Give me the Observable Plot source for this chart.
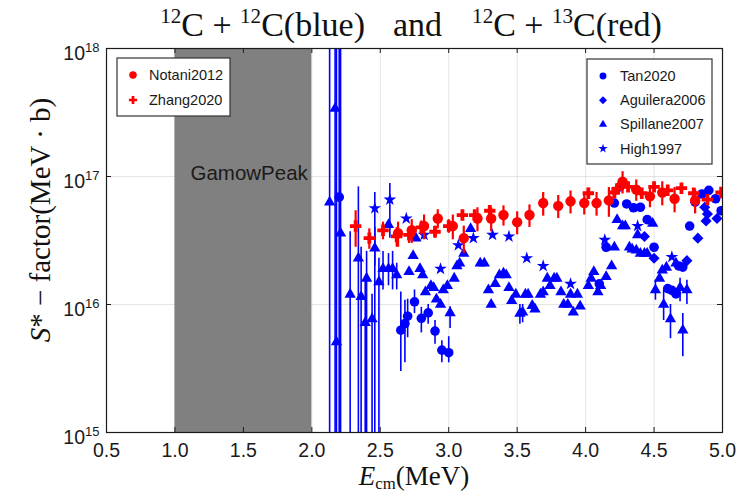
<!DOCTYPE html>
<html>
<head>
<meta charset="utf-8">
<script src="https://cdn.jsdelivr.net/npm/d3@7"></script>
<script src="https://cdn.jsdelivr.net/npm/@observablehq/plot@0.6"></script>
<style>
  body { margin: 0; background: white; }
  #wrap { position: relative; width: 755px; height: 496px; background: white; overflow: hidden; }
  .serif { font-family: "Liberation Serif", "DejaVu Serif", serif; color: #111; position: absolute; white-space: nowrap; line-height: 36px; }
  .serif sup { font-size: 62%; vertical-align: 0.62em; line-height: 0; }
  .serif sub { font-size: 62%; vertical-align: -0.25em; line-height: 0; }
</style>
</head>
<body>
<div id="wrap">
  <div id="chart"></div>
  <div id="title" class="serif" style="left:0;width:822px;text-align:center;top:7px;font-size:34px;">
    <sup>12</sup>C + <sup>12</sup>C(blue)<span style="display:inline-block;width:28px"></span>and<span style="display:inline-block;width:30px"></span><sup>12</sup>C + <sup>13</sup>C(red)
  </div>
  <div id="xlabel" class="serif" style="left:414px;top:458px;font-size:27px;transform:translateX(-50%);">
    <i>E</i><sub>cm</sub>(MeV)
  </div>
  <div id="ylabel" class="serif" style="left:40px;top:220px;font-size:29px;transform:translate(-50%,-50%) rotate(-90deg);">
    <i>S</i>* − factor(MeV · b)
  </div>
</div>
<script>
// ---------- axis ticks ----------
const xTicks = [0.5, 1.0, 1.5, 2.0, 2.5, 3.0, 3.5, 4.0, 4.5, 5.0];
const yTicks = [1e15, 1e16, 1e17, 1e18];
const gamowWindow = [1.0, 2.0];
const gamowLabel = "GamowPeak";

// ---------- 12C+13C (red) : [E, S, dS] ----------
const notani2012 = [
  [2.63,3.6e16,0.8e16],[2.73,3.8e16,0.8e16],[2.82,4.1e16,0.9e16],[2.92,4.7e16,0.8e16],
  [3.03,4.1e16,0.9e16],[3.11,3.3e16,0.8e16],[3.21,4.7e16,1.0e16],[3.31,4.7e16,1.0e16],
  [3.40,5.0e16,0.9e16],[3.50,4.4e16,0.9e16],[3.59,5.0e16,1.0e16],[3.69,6.2e16,1.3e16],
  [3.80,5.9e16,1.2e16],[3.89,6.4e16,1.3e16],[3.99,6.2e16,1.2e16],[4.08,6.2e16,1.3e16],
  [4.17,6.5e16,1.7e16],[4.27,9.1e16,1.8e16],[4.37,7.9e16,1.5e16],[4.47,7.0e16,1.3e16],
  [4.56,7.5e16,1.6e16],[4.65,6.7e16,1.5e16],[4.80,6.5e16,1.4e16]
];
const zhang2020 = [
  [2.32,4.1e16,1.3e16],[2.42,3.3e16,0.6e16],[2.52,3.8e16,0.6e16],[2.62,3.4e16,0.6e16],
  [2.71,3.5e16,0.5e16],[2.80,4.0e16,0.5e16],[2.90,3.7e16,0.4e16],[3.00,4.1e16,0.5e16],
  [3.10,5.0e16,0.4e16],[3.19,5.0e16,0.4e16],[3.30,5.4e16,0.5e16],[4.02,7.4e16,0.7e16],
  [4.21,7.5e16,0.7e16],[4.23,8.0e16,0.7e16],[4.31,8.3e16,0.7e16],[4.41,7.4e16,0.6e16],
  [4.50,8.3e16,0.7e16],[4.60,7.8e16,0.6e16],[4.70,8.1e16,0.6e16],[4.79,7.4e16,0.6e16],
  [4.89,6.6e16,0.6e16],[4.99,7.5e16,0.6e16]
];

// ---------- 12C+12C (blue) : [E, S, low, high] (bars only where visible) ----------
const tan2020 = [
  [2.20,6.9e16,1e15,1e18],[2.65,6.3e15,3.0e15,1.25e16],[2.68,7.1e15,3.5e15,1.08e16],
  [2.70,8.1e15,5.5e15,1.1e16],[2.75,1.05e16,8.5e15,1.3e16],[2.80,7.8e15,6.0e15,9.5e15],
  [2.85,8.6e15,7.0e15,1.0e16],[2.90,6.2e15,4.9e15,7.5e15],[2.95,4.4e15,3.5e15,5.2e15],
  [3.00,4.2e15,3.5e15,5.6e15],
  [4.10,1.45e16],[4.15,2.8e16],[4.21,6.2e16],[4.25,8.3e16],[4.30,6.1e16],[4.35,5.7e16],
  [4.40,5.75e16],[4.45,4.6e16],[4.50,2.8e16],[4.60,1.33e16],[4.63,1.29e16],[4.66,1.21e16],
  [4.68,2.0e16],[4.71,1.96e16],[4.76,4.1e16],[4.80,6.3e16],[4.85,7.3e16],[4.90,7.8e16],
  [4.95,6.7e16],[4.99,5.4e16]
];
const aguilera2006 = [
  [4.43,3.4e16],[4.50,2.3e16],[4.74,2.2e16],[4.82,3.3e16],[4.87,5.75e16],
  [4.89,5.1e16],[4.88,4.5e16],[4.96,4.7e16]
];
const spillane2007 = [
  [2.13,6.3e16,1e15,1e18],[2.17,3.4e17,1e15,1e18],[2.18,5.1e15,1e15,1e18],[2.21,3.6e16,1e15,1e18],
  [2.28,1.2e16,1e15,3.7e16],[2.34,2.3e16,1e15,8.3e16],[2.36,1.15e16,1e15,2.8e16],
  [2.39,7.2e15,1e15,1.6e16],[2.40,1.6e16,1e15,2.6e16],[2.44,7.7e15,1e15,1.2e16],
  [2.46,2.75e16,1e15,4.0e16],[2.49,1.5e16,1e15,2.3e16],[2.52,1.9e16,1.3e16,2.6e16],
  [2.56,1.9e16,1.4e16,2.5e16],[2.56,4.2e16],[2.59,1.9e16,1.3e16,2.6e16],[2.62,1.7e16,1.3e16,2.1e16],
  [2.71,1.8e16],[2.74,2.4e16],[2.76,3.3e16],[2.79,1.9e16],[2.81,1.7e16],[2.83,1.25e16],
  [2.87,1.4e16],[2.89,1.35e16],[2.91,1.1e16],[2.94,1.0e16],[2.96,1.3e16],[2.99,1.4e16],
  [3.01,8.6e15,6.5e15,9.6e15],[3.04,1.6e16],[3.06,2.0e16],[3.08,2.1e16],[3.11,2.5e16],
  [3.16,3.9e16],[3.23,2.1e16],[3.26,2.1e16],[3.29,1.3e16],[3.31,1.0e16],[3.34,1.45e16],
  [3.37,1.7e16],[3.40,1.75e16],[3.42,1.7e16],[3.44,1.35e16],[3.46,1.07e16],[3.49,1.2e16],
  [3.52,8.5e15,7.0e15,1.0e16],[3.54,8.7e15,7.2e15,1.0e16],[3.56,1.2e16],[3.58,1.2e16],
  [3.61,9.8e15],[3.63,9.2e15],[3.67,1.2e16],[3.69,1.25e16],[3.72,1.6e16],[3.74,1.4e16],
  [3.77,1.6e16],[3.79,1.6e16],[3.82,1.25e16],[3.84,1.0e16],[3.87,1.0e16],[3.89,1.2e16],
  [3.91,8.7e15],[3.94,1.2e16],[3.96,9.7e15],[4.02,1.4e16],[4.04,1.6e16],[4.06,1.8e16],
  [4.09,1.25e16],[4.11,1.4e16],[4.15,1.65e16],[4.19,2.0e16],[4.21,2.8e16],[4.23,4.6e16],
  [4.27,4.1e16],[4.29,4.1e16],[4.32,2.8e16],[4.34,2.7e16],[4.37,2.65e16],[4.38,3.5e16],
  [4.40,2.5e16],[4.43,2.5e16],[4.45,2.5e16],[4.49,4.3e16],[4.51,1.3e16,1.08e16,1.55e16],
  [4.54,1.6e16],[4.56,1.85e16],[4.57,1.0e16,7.5e15,1.3e16],[4.59,1.95e16],
  [4.62,7.7e15,5.4e15,1.0e16],[4.66,2.1e16],[4.69,1.35e16,1.05e16,1.6e16],
  [4.71,6.3e15,3.9e15,8.5e15],[4.74,1.3e16,1.0e16,1.55e16]
];
const high1997 = [
  [2.46,5.65e16,2.0e16,7.5e16],[2.57,6.6e16,3.3e16,8.8e16],[2.69,4.7e16],[2.82,3.5e16],
  [2.94,1.9e16],[3.07,2.9e16],[3.18,3.3e16],[3.32,3.5e16],[3.44,3.4e16],[3.57,2.3e16],
  [3.69,2.0e16],[3.89,1.45e16],[4.14,3.2e16],[4.38,4.1e16],[4.63,2.35e16]
];

// ---------- styling ----------
const BLUE = "#0000ff", RED = "#ff0000", INK = "#1a1a1a";
const blueSeries = [
  {name: "Tan2020", rows: tan2020, symbol: "circle", r: 4.8},
  {name: "Aguilera2006", rows: aguilera2006, symbol: "diamond2", r: 5.0},
  {name: "Spillane2007", rows: spillane2007, symbol: "triangle", r: 4.2},
  {name: "High1997", rows: high1997, symbol: "star", r: 4.0}
];
const redSeries = [
  {name: "Notani2012", rows: notani2012, symbol: "circle", r: 5.2},
  {name: "Zhang2020", rows: zhang2020, symbol: "cross", r: 4.8}
];

const toBlue = rows => rows.map(([E, S, lo, hi]) => ({E, S, lo, hi}));
const toRed = rows => rows.map(([E, S, d]) => ({E, S, lo: S - d, hi: S + d}));

const marks = [
  Plot.gridX(xTicks, {stroke: "#000", strokeOpacity: 0.1}),
  Plot.gridY(yTicks, {stroke: "#000", strokeOpacity: 0.1}),
  Plot.rect([{x1: gamowWindow[0], x2: gamowWindow[1], label: gamowLabel}], {x1: "x1", x2: "x2", fill: "#808080"}),
  Plot.text([{x: gamowWindow[1], label: gamowLabel}], {x: "x", text: "label", frameAnchor: "top", textAnchor: "end", dx: -4, dy: 117, fontSize: 20.5, fill: INK})
];
for (const s of blueSeries) {
  const d = toBlue(s.rows);
  marks.push(Plot.ruleX(d.filter(p => p.lo != null), {x: "E", y1: "lo", y2: "hi", stroke: BLUE, strokeWidth: 1.6, clip: true}));
}
for (const s of blueSeries) {
  marks.push(Plot.dot(toBlue(s.rows), {x: "E", y: "S", symbol: s.symbol, r: s.r, fill: BLUE, stroke: "none", clip: true}));
}
for (const s of redSeries) {
  const d = toRed(s.rows);
  marks.push(Plot.ruleX(d, {x: "E", y1: "lo", y2: "hi", stroke: RED, strokeWidth: 2.2, clip: true}));
  marks.push(Plot.dot(d, {x: "E", y: "S", symbol: s.symbol, r: s.r, fill: RED, stroke: "none", clip: true}));
}
marks.push(
  Plot.ruleX(xTicks, {insetTop: 379, stroke: INK}),
  Plot.ruleX(xTicks, {insetBottom: 379, stroke: INK}),
  Plot.ruleY(yTicks, {insetRight: 611, stroke: INK}),
  Plot.ruleY(yTicks, {insetLeft: 611, stroke: INK}),
  Plot.axisX(xTicks, {tickSize: 0, tickPadding: 11, tickFormat: d => d.toFixed(1), label: null, fontSize: 19.5, fill: INK}),
  Plot.axisY(yTicks, {tickSize: 0, tickPadding: 7, tickFormat: d => "10^" + Math.round(Math.log10(d)), label: null, fontSize: 19.5, fill: INK}),
  Plot.frame({stroke: INK, strokeWidth: 1.2})
);

const chart = Plot.plot({
  width: 755, height: 496,
  marginLeft: 106, marginRight: 33, marginTop: 48, marginBottom: 64,
  x: {domain: [0.5, 5.0], label: null},
  y: {type: "log", domain: [1e15, 1e18], label: null},
  style: {fontFamily: "'Liberation Sans', Arial, sans-serif", fontSize: "17px", color: INK, background: "white"},
  marks
});
document.getElementById("chart").appendChild(chart);

// superscript exponents on y tick labels
d3.select(chart).selectAll('g[aria-label="y-axis tick label"] text').each(function() {
  const t = d3.select(this);
  const m = /^10\^(\d+)$/.exec(t.text());
  if (!m) return;
  t.text("10").attr("dy", "0.28em");
  t.append("tspan").attr("dy", "-0.6em").attr("font-size", 13).text(m[1]);
});

// legends drawn into the svg
const svg = d3.select(chart);
function legend(box, entries, color) {
  const g = svg.append("g").attr("font-family", "'Liberation Sans', Arial, sans-serif").attr("font-size", 14.5).attr("text-anchor", "start");
  g.append("rect").attr("x", box.x).attr("y", box.y).attr("width", box.w).attr("height", box.h)
    .attr("fill", "white").attr("stroke", "#333").attr("stroke-width", 1.2);
  entries.forEach((s, i) => {
    const cy = box.y0 + i * box.dy;
    const type = {circle: d3.symbolCircle, cross: d3.symbolCross, triangle: d3.symbolTriangle, star: d3.symbolStar, diamond2: d3.symbolDiamond2}[s.symbol];
    g.append("path").attr("transform", `translate(${box.mx},${cy})`)
      .attr("d", d3.symbol(type, Math.PI * (s.r * 0.72) ** 2)()).attr("fill", color);
    g.append("text").attr("x", box.tx).attr("y", cy).attr("dy", "0.35em").attr("text-anchor", "start").attr("fill", INK).text(s.name);
  });
}
legend({x: 117, y: 58, w: 113, h: 58, y0: 75, dy: 25, mx: 133, tx: 149}, redSeries, RED);
legend({x: 587, y: 59, w: 125, h: 105, y0: 76, dy: 24.2, mx: 603, tx: 620}, blueSeries, BLUE);
</script>
</body>
</html>
